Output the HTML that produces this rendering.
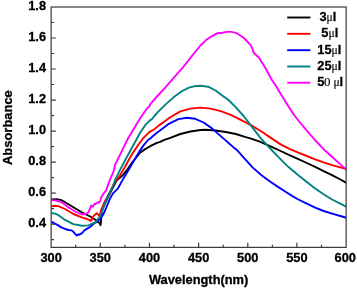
<!DOCTYPE html>
<html lang="en"><head><meta charset="utf-8"><title>chart</title>
<style>html,body{margin:0;padding:0;background:#fff}body{width:357px;height:288px;overflow:hidden;position:relative;font-family:"Liberation Sans",sans-serif}</style></head>
<body>
<svg width="357" height="288" viewBox="0 0 357 288" style="position:absolute;left:0;top:0;will-change:transform">
<rect width="357" height="288" fill="#fff"/>
<clipPath id="c"><rect x="51.15" y="7.0" width="294.95" height="240.40"/></clipPath>
<g clip-path="url(#c)" fill="none" stroke-width="1.9" stroke-linejoin="round" stroke-linecap="butt">
<path d="M51.2,199.7 L54.2,199.3 L58.3,199.4 L61.2,200.2 L65.0,202.2 L73.4,207.3 L81.8,212.3 L90.2,216.5 L96.9,220.7 L99.5,223.1 L100.5,225.2 L101.0,221.6 L101.7,211.6 L103.8,206.0 L107.2,198.6 L111.3,190.9 L116.4,180.8 L118.2,179.0 L121.4,176.6 L123.7,174.1 L126.5,170.7 L132.3,162.3 L135.9,158.0 L140.1,152.6 L145.2,149.1 L150.2,146.2 L156.9,142.9 L160.2,141.9 L163.7,140.2 L170.3,137.8 L180.4,134.0 L190.4,131.5 L200.5,130.0 L205.5,129.7 L215.6,130.5 L225.7,132.0 L235.8,134.0 L245.8,137.1 L250.4,138.4 L260.4,141.9 L270.5,146.4 L280.6,151.0 L290.0,155.4 L298.4,159.2 L306.8,163.0 L315.2,166.9 L323.6,171.1 L332.0,175.2 L340.4,179.5 L345.5,182.3 L346.5,182.8" stroke="black" transform="translate(0,0)"/>
<path d="M51.2,206.4 L54.2,205.8 L58.2,206.1 L65.0,209.0 L73.4,214.0 L81.8,217.4 L90.2,220.2 L90.6,221.0 L91.6,220.2 L92.3,217.8 L94.0,215.5 L96.8,213.3 L98.5,214.9 L99.6,216.3 L100.5,212.5 L101.3,209.5 L104.6,201.8 L109.6,192.6 L114.7,182.4 L119.7,175.7 L124.8,167.3 L128.4,160.5 L133.4,152.1 L138.5,144.5 L143.5,137.8 L148.5,132.8 L151.2,130.8 L153.6,129.9 L158.6,125.6 L163.7,122.1 L168.2,118.8 L170.3,117.2 L180.4,111.4 L190.4,108.6 L200.5,107.6 L210.6,108.6 L220.7,111.1 L230.7,114.9 L240.3,119.6 L250.4,124.9 L260.4,130.8 L270.5,137.6 L280.6,144.4 L290.0,149.1 L298.4,152.7 L306.8,156.0 L315.2,159.3 L323.6,162.4 L332.0,165.2 L340.4,167.4 L345.5,168.9 L346.5,169.2" stroke="red" transform="translate(0,0)"/>
<path d="M51.2,221.7 L54.9,223.7 L58.3,225.4 L61.2,227.4 L65.0,228.8 L68.2,230.0 L71.7,230.4 L73.2,231.6 L75.1,233.8 L76.8,235.5 L78.0,234.5 L79.3,234.9 L80.5,233.8 L81.8,233.5 L84.3,230.4 L88.5,227.9 L91.9,225.4 L94.2,223.2 L96.9,222.0 L100.3,218.7 L103.7,213.6 L106.3,207.6 L109.6,199.3 L113.0,193.4 L118.0,188.3 L123.1,179.1 L128.1,170.7 L133.4,161.5 L138.5,152.9 L143.5,145.4 L148.5,139.5 L150.7,138.4 L152.4,136.4 L156.9,132.8 L162.0,129.0 L168.2,124.2 L178.4,119.1 L186.8,117.8 L195.2,118.8 L203.6,122.5 L212.0,128.4 L220.4,135.9 L226.8,141.4 L230.0,144.3 L234.4,148.1 L237.7,150.8 L244.4,158.4 L252.8,167.6 L261.2,175.0 L269.6,181.2 L278.0,186.9 L286.4,192.2 L292.0,195.9 L298.4,199.5 L306.8,203.7 L315.2,207.6 L323.6,211.0 L332.0,213.6 L340.4,216.0 L345.5,217.5 L346.5,217.8" stroke="blue" transform="translate(0,0)"/>
<path d="M51.2,213.2 L54.2,213.4 L58.2,214.9 L65.0,219.9 L73.4,224.1 L81.8,225.8 L88.5,225.4 L95.2,222.4 L100.3,216.5 L102.9,209.1 L108.0,195.9 L113.0,185.8 L115.5,179.1 L119.7,170.7 L125.0,160.5 L130.0,151.3 L135.1,142.0 L140.1,132.8 L145.2,125.2 L150.2,120.2 L151.7,119.4 L154.4,116.0 L157.8,112.2 L165.4,104.6 L173.8,97.1 L182.2,91.0 L188.9,87.6 L194.0,86.3 L200.5,85.7 L208.1,86.7 L215.6,90.5 L223.2,96.2 L228.5,100.0 L235.2,106.7 L243.6,116.0 L252.0,126.9 L260.4,137.8 L268.0,146.2 L272.1,150.5 L278.0,156.7 L286.4,165.1 L290.0,168.2 L296.0,173.2 L299.2,176.0 L306.8,182.0 L315.2,188.5 L323.6,194.2 L332.0,199.5 L340.4,203.7 L345.5,206.3 L346.5,206.8" stroke="#008080" transform="translate(0,0)"/>
<path d="M51.2,200.1 L55.2,200.4 L61.6,202.2 L68.4,207.3 L75.1,211.5 L81.8,214.5 L85.6,214.0 L88.4,212.3 L90.1,208.3 L91.2,205.5 L92.1,206.6 L92.9,206.6 L94.6,203.8 L95.7,204.1 L96.8,203.2 L97.9,202.1 L99.0,202.5 L100.2,201.0 L101.3,197.1 L102.2,196.0 L103.0,194.3 L104.6,192.3 L106.3,190.1 L107.2,187.1 L109.6,180.8 L111.2,176.9 L112.3,174.3 L114.0,170.2 L115.1,164.8 L117.9,159.0 L120.7,153.4 L123.3,147.9 L128.4,137.8 L133.4,129.4 L138.5,121.0 L144.4,112.1 L147.6,107.8 L149.0,106.8 L150.3,104.1 L157.0,96.5 L165.4,87.3 L175.2,76.2 L183.6,66.6 L192.0,55.9 L200.4,45.5 L205.5,40.6 L210.0,37.3 L216.5,33.7 L218.7,32.8 L220.3,33.2 L226.6,31.9 L231.6,31.9 L236.7,33.2 L244.0,38.0 L250.7,45.2 L252.7,49.4 L253.2,52.0 L255.8,54.8 L259.1,57.8 L265.8,68.8 L271.9,80.0 L275.1,84.6 L279.4,91.8 L286.2,102.7 L292.1,111.9 L293.7,114.5 L299.6,122.0 L304.7,128.1 L314.9,140.0 L323.6,149.2 L332.0,156.8 L340.4,164.4 L345.5,168.9 L346.5,169.8" stroke="magenta" transform="translate(0,0)"/>
</g>
<g stroke="#3a3a3a" stroke-width="1.2" fill="none">
<rect x="51.15" y="7.0" width="295.0" height="240.4"/>
<path d="M75.7,247.4 v-2.7 M100.3,247.4 v-4.6 M124.9,247.4 v-2.7 M149.5,247.4 v-4.6 M174.0,247.4 v-2.7 M198.6,247.4 v-4.6 M223.2,247.4 v-2.7 M247.8,247.4 v-4.6 M272.4,247.4 v-2.7 M296.9,247.4 v-4.6 M321.5,247.4 v-2.7 M51.15,239.6 h2.8 M51.15,224.1 h4.7 M51.15,208.6 h2.8 M51.15,193.1 h4.7 M51.15,177.6 h2.8 M51.15,162.1 h4.7 M51.15,146.6 h2.8 M51.15,131.1 h4.7 M51.15,115.6 h2.8 M51.15,100.1 h4.7 M51.15,84.5 h2.8 M51.15,69.0 h4.7 M51.15,53.5 h2.8 M51.15,38.0 h4.7 M51.15,22.5 h2.8"/>
</g>
<path d="M287.2,17.5 H310.4" stroke="black" stroke-width="1.9" fill="none"/>
<path d="M287.2,33.8 H310.4" stroke="red" stroke-width="1.9" fill="none"/>
<path d="M287.2,50.2 H310.4" stroke="blue" stroke-width="1.9" fill="none"/>
<path d="M287.2,66.5 H310.4" stroke="#008080" stroke-width="1.9" fill="none"/>
<path d="M287.2,82.7 H310.4" stroke="magenta" stroke-width="1.9" fill="none"/>
<g font-family="Liberation Sans, sans-serif" font-weight="bold" font-size="12.8px" fill="#000" stroke="#000" stroke-width="0.3" stroke-linejoin="round">
<text x="46.0" y="227.4" text-anchor="end">0.4</text>
<text x="46.0" y="196.4" text-anchor="end">0.6</text>
<text x="46.0" y="165.4" text-anchor="end">0.8</text>
<text x="46.0" y="134.4" text-anchor="end">1.0</text>
<text x="46.0" y="103.4" text-anchor="end">1.2</text>
<text x="46.0" y="72.3" text-anchor="end">1.4</text>
<text x="46.0" y="41.3" text-anchor="end">1.6</text>
<text x="46.0" y="10.3" text-anchor="end">1.8</text>
<text x="51.1" y="261.9" text-anchor="middle">300</text>
<text x="100.3" y="261.9" text-anchor="middle">350</text>
<text x="149.5" y="261.9" text-anchor="middle">400</text>
<text x="198.6" y="261.9" text-anchor="middle">450</text>
<text x="247.8" y="261.9" text-anchor="middle">500</text>
<text x="296.9" y="261.9" text-anchor="middle">550</text>
<text x="345.3" y="261.9" text-anchor="middle">600</text>
<text x="198.6" y="284.0" text-anchor="middle" font-size="12.85px">Wavelength(nm)</text>
<text transform="translate(11.8,127.6) rotate(-90)" text-anchor="middle" font-size="12.95px">Absorbance</text>
<text x="319.4" y="20.9">3<tspan font-family="Liberation Serif, serif" font-weight="normal" stroke-width="0.15" font-size="11.6px">μ</tspan>l</text>
<text x="321.3" y="37.2">5<tspan font-family="Liberation Serif, serif" font-weight="normal" stroke-width="0.15" font-size="11.6px">μ</tspan>l</text>
<text x="317.3" y="53.6">15<tspan font-family="Liberation Serif, serif" font-weight="normal" stroke-width="0.15" font-size="11.6px">μ</tspan>l</text>
<text x="317.3" y="69.9">25<tspan font-family="Liberation Serif, serif" font-weight="normal" stroke-width="0.15" font-size="11.6px">μ</tspan>l</text>
<text x="317.3" y="86.1">5<tspan font-family="Liberation Serif, serif" font-weight="normal" stroke-width="0.15" font-size="13px" dx="-0.5">0 </tspan><tspan font-family="Liberation Serif, serif" font-weight="normal" stroke-width="0.15" font-size="11.6px" dx="-0.3">μ</tspan>l</text>
</g>
</svg>
</body></html>
